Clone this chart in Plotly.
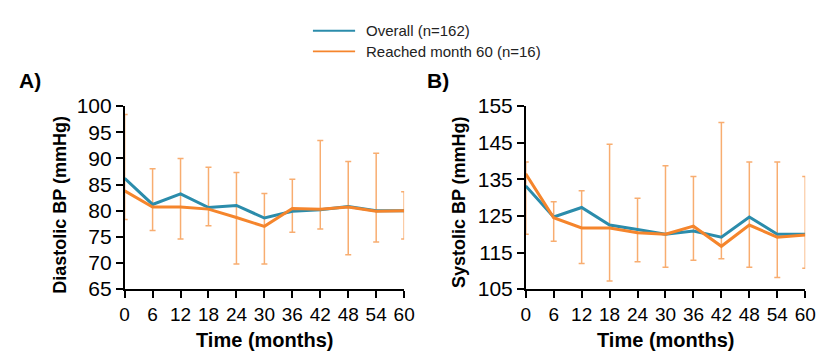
import plotly.graph_objects as go

months = [0, 6, 12, 18, 24, 30, 36, 42, 48, 54, 60]

dia_overall = [86.2, 81.2, 83.2, 80.6, 81.0, 78.6, 79.9, 80.2, 80.8, 80.0, 80.0]
dia_m60 = [83.8, 80.7, 80.7, 80.3, 78.7, 77.0, 80.4, 80.3, 80.7, 79.9, 80.0]
dia_m60_hi = [98.4, 88.0, 90.0, 88.3, 87.3, 83.3, 86.0, 93.4, 89.4, 91.0, 83.6]
dia_m60_lo = [78.3, 76.2, 74.6, 77.1, 69.8, 69.8, 75.9, 76.5, 71.6, 74.0, 74.6]

sys_overall = [133.2, 124.7, 127.3, 122.5, 121.3, 120.0, 120.9, 119.2, 124.7, 120.0, 120.0]
sys_m60 = [136.5, 124.5, 121.7, 121.7, 120.4, 120.0, 122.2, 116.7, 122.5, 119.2, 119.8]
sys_m60_hi = [139.7, 128.9, 131.9, 144.6, 129.8, 138.7, 135.8, 150.5, 139.7, 139.7, 135.8]
sys_m60_lo = [120.0, 118.1, 112.0, 107.2, 112.5, 111.0, 112.9, 113.3, 111.0, 108.2, 110.7]

x_ticks = [0, 6, 12, 18, 24, 30, 36, 42, 48, 54, 60]
dia_ticks = [65, 70, 75, 80, 85, 90, 95, 100]
sys_ticks = [105, 115, 125, 135, 145, 155]

series_names = ["Overall (n=162)", "Reached month 60 (n=16)"]

TEAL = "#2b8cab"
ORANGE = "#f5852c"
ERR = "#f8ad70"
FONT = "Liberation Sans, Arial, sans-serif"

W, H = 828, 361

fig = go.Figure()

def add_panel(xa, ya, overall, m60, hi, lo):
    fig.add_trace(go.Scatter(
        x=months, y=m60, mode="markers", marker=dict(size=0.1, color="rgba(0,0,0,0)"),
        error_y=dict(type="data", symmetric=False,
                     array=[h - v for h, v in zip(hi, m60)],
                     arrayminus=[v - l for l, v in zip(lo, m60)],
                     color=ERR, thickness=1.5, width=3),
        xaxis=xa, yaxis=ya, showlegend=False, hoverinfo="skip", cliponaxis=False))
    fig.add_trace(go.Scatter(
        x=months, y=overall, mode="lines", line=dict(color=TEAL, width=3),
        name=series_names[0], xaxis=xa, yaxis=ya, showlegend=False))
    fig.add_trace(go.Scatter(
        x=months, y=m60, mode="lines", line=dict(color=ORANGE, width=3),
        name=series_names[1], xaxis=xa, yaxis=ya, showlegend=False))

add_panel("x", "y", dia_overall, dia_m60, dia_m60_hi, dia_m60_lo)
add_panel("x2", "y2", sys_overall, sys_m60, sys_m60_hi, sys_m60_lo)

ydom = [1 - 296 / H, 1 - 100.5 / H]

axis_common = dict(showline=True, linecolor="black", linewidth=1.5, ticks="outside",
                   ticklen=7, tickcolor="black", tickwidth=1.5, showgrid=False,
                   zeroline=False)
xfont = dict(family=FONT, size=19, color="black")
yfont = dict(family=FONT, size=21, color="black")

def px(xp):
    return xp / W

def py(yp):
    return 1 - yp / H

annotations = [
    dict(text="<b>A)</b>", x=px(12), y=py(73), xanchor="left", yanchor="middle",
         font=dict(family=FONT, size=21, color="black")),
    dict(text="<b>B)</b>", x=px(428), y=py(73), xanchor="left", yanchor="middle",
         font=dict(family=FONT, size=21, color="black")),
    dict(text="<b>Time (months)</b>", x=px(264.5), y=py(350), xanchor="center", yanchor="middle",
         font=dict(family=FONT, size=20, color="black")),
    dict(text="<b>Time (months)</b>", x=px(673.5), y=py(350), xanchor="center", yanchor="middle",
         font=dict(family=FONT, size=20, color="black")),
    dict(text="<b>Diastolic BP (mmHg)</b>", x=px(56), y=py(206), xanchor="center", yanchor="middle",
         textangle=-90, font=dict(family=FONT, size=18, color="black")),
    dict(text="<b>Systolic BP (mmHg)</b>", x=px(463), y=py(203), xanchor="center", yanchor="middle",
         textangle=-90, font=dict(family=FONT, size=18, color="black")),
]
shapes = []
for i, (name, col) in enumerate(zip(series_names, [TEAL, ORANGE])):
    yl = 20 + 22 * i
    shapes.append(dict(type="line", xref="paper", yref="paper", x0=px(314), x1=px(357),
                       y0=py(yl), y1=py(yl), line=dict(color=col, width=1.8)))
    annotations.append(dict(text=name, x=px(366), y=py(yl), xanchor="left", yanchor="middle",
                            font=dict(family=FONT, size=15, color="#222")))
for a in annotations:
    a.update(xref="paper", yref="paper", showarrow=False)

fig.update_layout(
    width=W, height=H, margin=dict(l=0, r=0, t=0, b=0),
    paper_bgcolor="white", plot_bgcolor="white", showlegend=False,
    font=dict(family=FONT, color="black"),
    xaxis=dict(domain=[px(122), px(407)], range=[0, 60], tickvals=x_ticks, anchor="y",
               tickfont=xfont, **axis_common),
    yaxis=dict(domain=ydom, range=[65, 100], tickvals=dia_ticks, anchor="x",
               tickfont=yfont, **axis_common),
    xaxis2=dict(domain=[px(531), px(816)], range=[0, 60], tickvals=x_ticks, anchor="y2",
                tickfont=xfont, **axis_common),
    yaxis2=dict(domain=ydom, range=[105, 155], tickvals=sys_ticks, anchor="x2",
                tickfont=yfont, **axis_common),
    annotations=annotations,
    shapes=shapes,
)

fig.write_html("out.html")
